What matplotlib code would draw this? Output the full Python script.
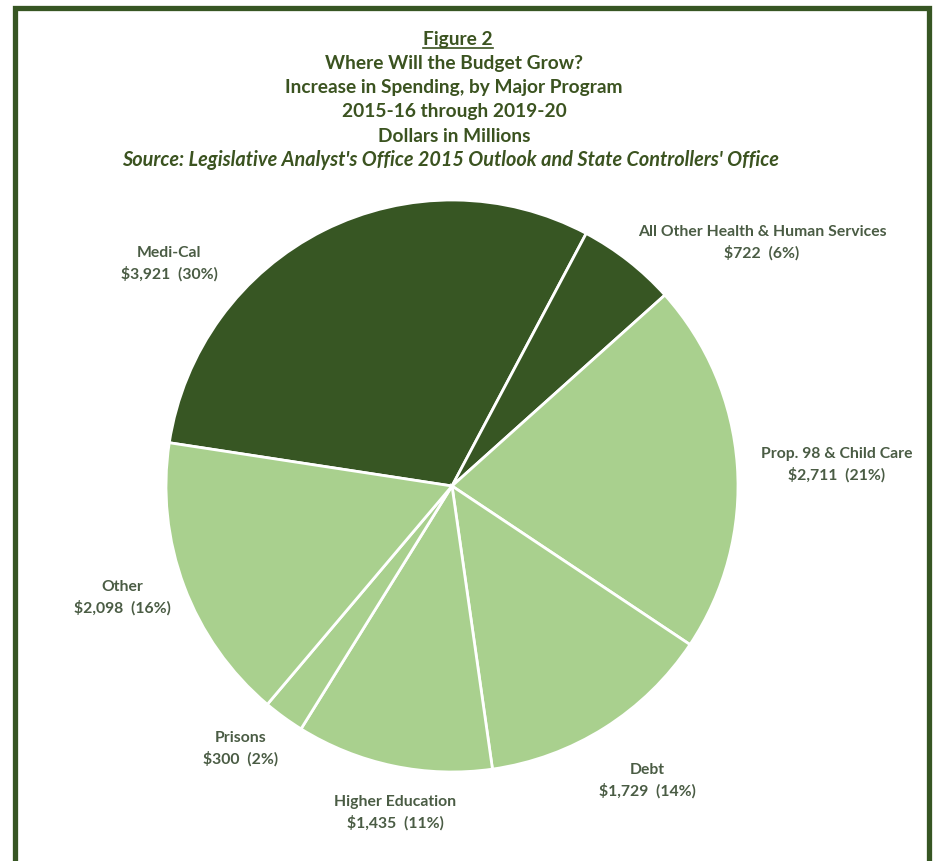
"""
budget_pie.py
Figure 2 - Where Will the Budget Grow? (pie chart)
"""

import matplotlib
matplotlib.use("Agg")
import matplotlib.pyplot as plt
from matplotlib.patches import Rectangle

plt.rcParams['font.family'] = ['Lato', 'DejaVu Sans']
plt.rcParams['font.weight'] = 'bold'

# data
programs = ["Medi-Cal", "All Other Health & Human Services", "Prop. 98 & Child Care",
            "Debt", "Higher Education", "Prisons", "Other"]
amounts = [3921, 722, 2711, 1729, 1435, 300, 2098]
pcts = [30, 6, 21, 14, 11, 2, 16]

title_lines = ["Where Will the Budget Grow?",
               "Increase in Spending, by Major Program",
               "2015-16 through 2019-20",
               "Dollars in Millions"]
source_line = "Source: Legislative Analyst's Office 2015 Outlook and State Controllers' Office"

# layout (pixel coords, y up)
W, H = 933, 861
dark = '#375623'
light = '#A9D08E'
colors = [dark, dark, light, light, light, light, light]
label_xy = [(169, 597), (762, 618), (837, 396), (647, 80), (395, 48), (241, 112), (122, 263)]
title_col = '#3B5320'
label_col = '#4A5C44'

fig = plt.figure(figsize=(W / 100, H / 100), dpi=100)
ax = fig.add_axes([0, 0, 1, 1])

ax.pie(amounts, colors=colors, startangle=171.3, counterclock=False,
       center=(452, 375), radius=286, frame=True,
       wedgeprops=dict(edgecolor='white', linewidth=2))
ax.set_xlim(0, W)
ax.set_ylim(0, H)
ax.set_axis_off()

for (x, y), name, amt, p in zip(label_xy, programs, amounts, pcts):
    ax.text(x, y, f"{name}\n${amt:,}  ({p}%)", ha='center', va='center',
            fontsize=11.3, color=label_col, linespacing=1.5)

# titles
cx = 454
t = ax.text(cx + 4, H - 40, "Figure 2", ha='center', va='center',
            fontsize=13.8, color=title_col)
ys = [63, 87, 111, 136]
for y, s in zip(ys, title_lines):
    ax.text(cx, H - y, s, ha='center', va='center', fontsize=13.8, color=title_col)
ax.text(cx - 4, H - 160, source_line, ha='center', va='center',
        fontsize=14.3, color=title_col, style='italic')

# underline "Figure 2"
fig.canvas.draw()
bb = t.get_window_extent().transformed(ax.transData.inverted())
ax.plot([bb.x0, bb.x1], [bb.y0 + 1, bb.y0 + 1], color=title_col, lw=1.2)

# frame
ax.add_patch(Rectangle((14.5, -20), 914, 853.5 + 20, fill=False,
                       edgecolor=dark, linewidth=3.8, clip_on=False))

fig.savefig("out.png", dpi=100)
